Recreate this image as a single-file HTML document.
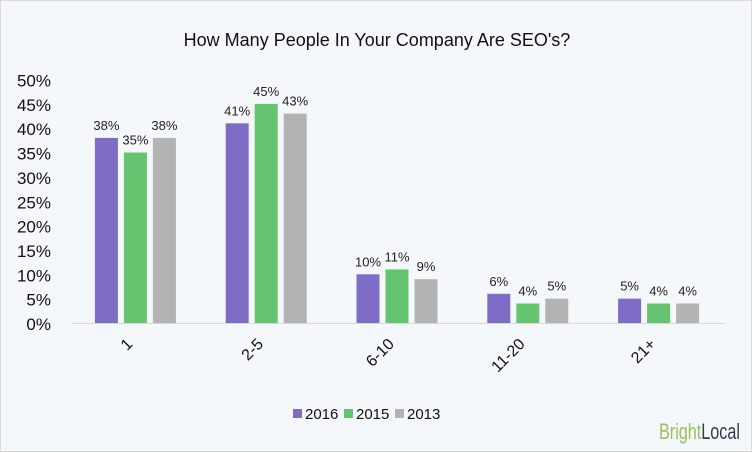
<!DOCTYPE html>
<html><head><meta charset="utf-8"><style>
body{margin:0;background:#fff;}
#wrap{position:relative;width:752px;height:452px;background:#f5f8fb;box-sizing:border-box;border:1px solid #d9d9d9;font-family:"Liberation Sans",sans-serif;}
</style></head><body>
<div id="wrap">
<svg id="chart" width="752" height="452" style="position:absolute;left:0;top:0">
<text x="376" y="45" text-anchor="middle" font-size="18" fill="#111">How Many People In Your Company Are SEO's?</text>
<text x="658" y="438" font-size="22" fill="#9cc05a" textLength="81" lengthAdjust="spacingAndGlyphs">Bright<tspan fill="#333c4c">Local</tspan></text>
</svg>
</div>
<script>
const categories=["1","2-5","6-10","11-20","21+"];
const seriesNames=["2016","2015","2013"];
const s2016=[38,41,10,6,5];
const s2015=[35,45,11,4,4];
const s2013=[38,43,9,5,4];
const yTicks=[0,5,10,15,20,25,30,35,40,45,50];
const colors=["#7e6cc6","#65c46f","#b3b3b3"];
const series=[s2016,s2015,s2013];
const svg=document.getElementById('chart');
const NS='http://www.w3.org/2000/svg';
const x0=70,x1=724,yBase=322,pxPer=4.87;
const gw=(x1-x0)/categories.length;
const y=v=>yBase-v*pxPer;
const xc=i=>x0+gw*(i+0.5)-1;
function mk(t,a){const e=document.createElementNS(NS,t);for(const k in a)e.setAttribute(k,a[k]);svg.appendChild(e);return e;}
yTicks.forEach(t=>{
  const e=mk('text',{x:50,y:y(t)+7,'text-anchor':'end','font-size':17,fill:'#111'});
  e.textContent=t+'%';
  
  
});
const ax=mk('line',{x1:x0,x2:x1,y1:yBase+0.5,y2:yBase+0.5,stroke:'#d9d9d9','stroke-width':1});


const bw=23,gap=6;
categories.forEach((c,i)=>{
  series.forEach((s,j)=>{
    const bx=xc(i)+(j-1)*(bw+gap)-bw/2;
    const r=mk('rect',{x:bx,y:y(s[i]),width:bw,height:s[i]*pxPer,fill:colors[j]});
    
    
    const l=mk('text',{x:bx+bw/2,y:y(s[i])-8,'text-anchor':'middle','font-size':13,fill:'#222'});
    l.textContent=s[i]+'%';
    
    
  });
  const cx=xc(i)-2,cy=yBase+22;
  const t=mk('text',{x:cx,y:cy,'text-anchor':'end','font-size':16,fill:'#111',transform:'rotate(-45 '+cx+' '+cy+')'});
  t.textContent=c;
  
  
});
const lx=[292,343,394];
seriesNames.forEach((n,j)=>{
  const r=mk('rect',{x:lx[j],y:408,width:9,height:9,fill:colors[j]});
  
  
  const t=mk('text',{x:lx[j]+12,y:418,'font-size':15,fill:'#111'});
  t.textContent=n;
  
  
});
</script>
</body></html>
